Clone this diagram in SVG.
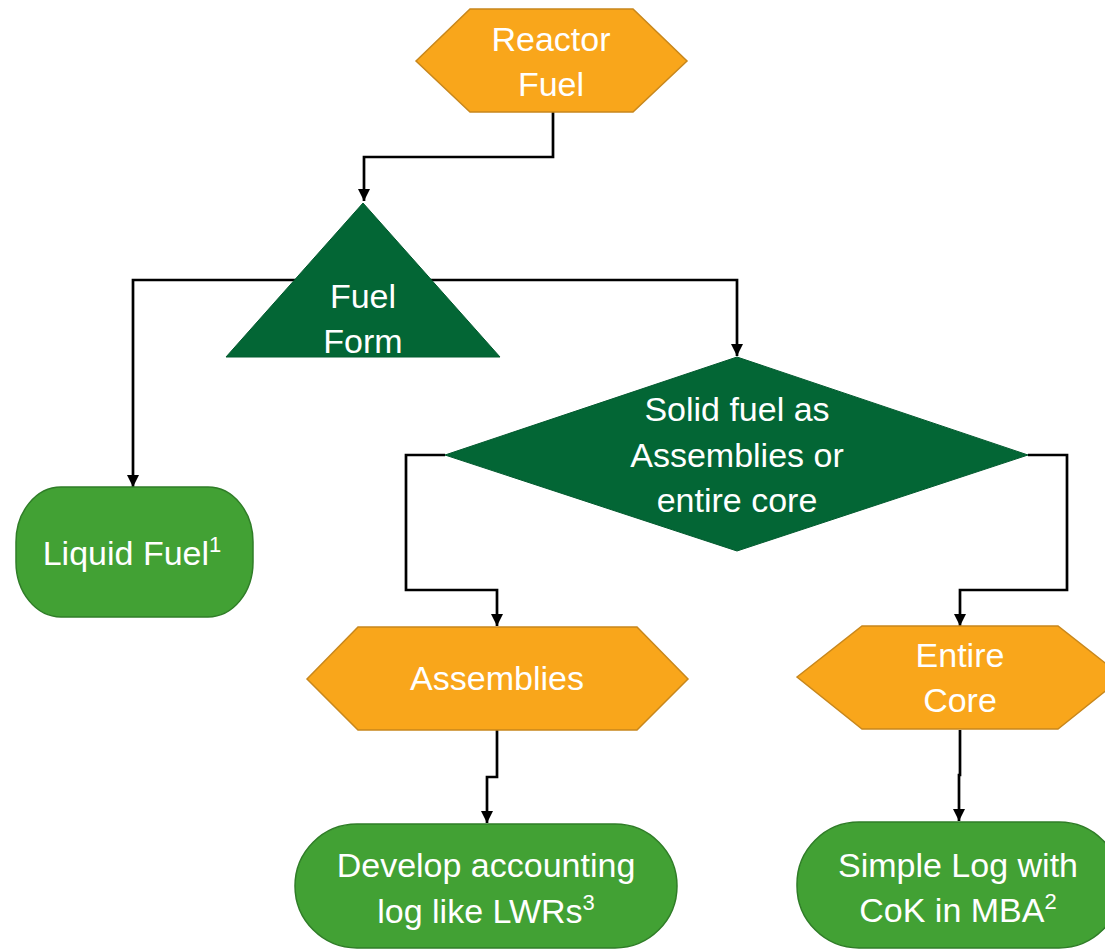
<svg xmlns="http://www.w3.org/2000/svg" width="1105" height="949" viewBox="0 0 1105 949">
<defs>
<marker id="arr" markerWidth="12" markerHeight="12" refX="10" refY="5" orient="auto" markerUnits="userSpaceOnUse" viewBox="0 0 10 10">
<path d="M0,0 L10,5 L0,10 z" fill="#000"/>
</marker>
<style>
.orange{fill:#F9A61B;stroke:#C8871C;stroke-width:1.5}
.dark{fill:#036635;stroke:#035a2f;stroke-width:1}
.light{fill:#42A134;stroke:#2F7D27;stroke-width:1.5}
.t{font-family:"Liberation Sans",Arial,sans-serif;font-size:34px;fill:#fff;text-anchor:middle}
.sup{font-size:22px}
.c{fill:none;stroke:#000;stroke-width:2.7;marker-end:url(#arr)}
</style>
</defs>
<rect width="1105" height="949" fill="#fff"/>
<g id="connectors">
<path class="c" d="M553,112 V157 H364 V201"/>
<path class="c" d="M330,280 H133 V487"/>
<path class="c" d="M400,280 H737 V356"/>
<path class="c" d="M445,455 H406 V590 H497 V626"/>
<path class="c" d="M1028,455 H1067 V590 H960 V626"/>
<path class="c" d="M497,730 V777 H487 V823"/>
<path class="c" d="M960,730 V775 H959 V821"/>
</g>
<g id="reactor-fuel">
<polygon class="orange" points="416,61 470,9 633,9 687,61 633,112 470,112"/>
<text class="t" x="551" y="51">Reactor</text>
<text class="t" x="551" y="96">Fuel</text>
</g>
<g id="fuel-form">
<polygon class="dark" points="363,203 500,357 226,357"/>
<text class="t" x="363" y="308">Fuel</text>
<text class="t" x="363" y="353">Form</text>
</g>
<g id="liquid-fuel">
<rect class="light" x="16" y="487" width="237" height="130" rx="45" ry="55"/>
<text class="t" x="132" y="565">Liquid Fuel<tspan class="sup" dy="-13">1</tspan></text>
</g>
<g id="solid-fuel">
<polygon class="dark" points="737,357 1028,455 737,551 445,455"/>
<text class="t" x="737" y="421">Solid fuel as</text>
<text class="t" x="737" y="467">Assemblies or</text>
<text class="t" x="737" y="512">entire core</text>
</g>
<g id="assemblies">
<polygon class="orange" points="307,679 358,627 637,627 688,679 637,730 358,730"/>
<text class="t" x="497" y="690">Assemblies</text>
</g>
<g id="entire-core">
<polygon class="orange" points="797,677 862,626 1058,626 1123,677 1058,729 862,729"/>
<text class="t" x="960" y="667">Entire</text>
<text class="t" x="960" y="712">Core</text>
</g>
<g id="develop-log">
<rect class="light" x="295" y="824" width="382" height="124" rx="62" ry="62"/>
<text class="t" x="486" y="877">Develop accounting</text>
<text class="t" x="486" y="923">log like LWRs<tspan class="sup" dy="-13">3</tspan></text>
</g>
<g id="simple-log">
<rect class="light" x="797" y="822" width="324" height="126" rx="62" ry="62"/>
<text class="t" x="958" y="877">Simple Log with</text>
<text class="t" x="958" y="922">CoK in MBA<tspan class="sup" dy="-13">2</tspan></text>
</g>
</svg>
